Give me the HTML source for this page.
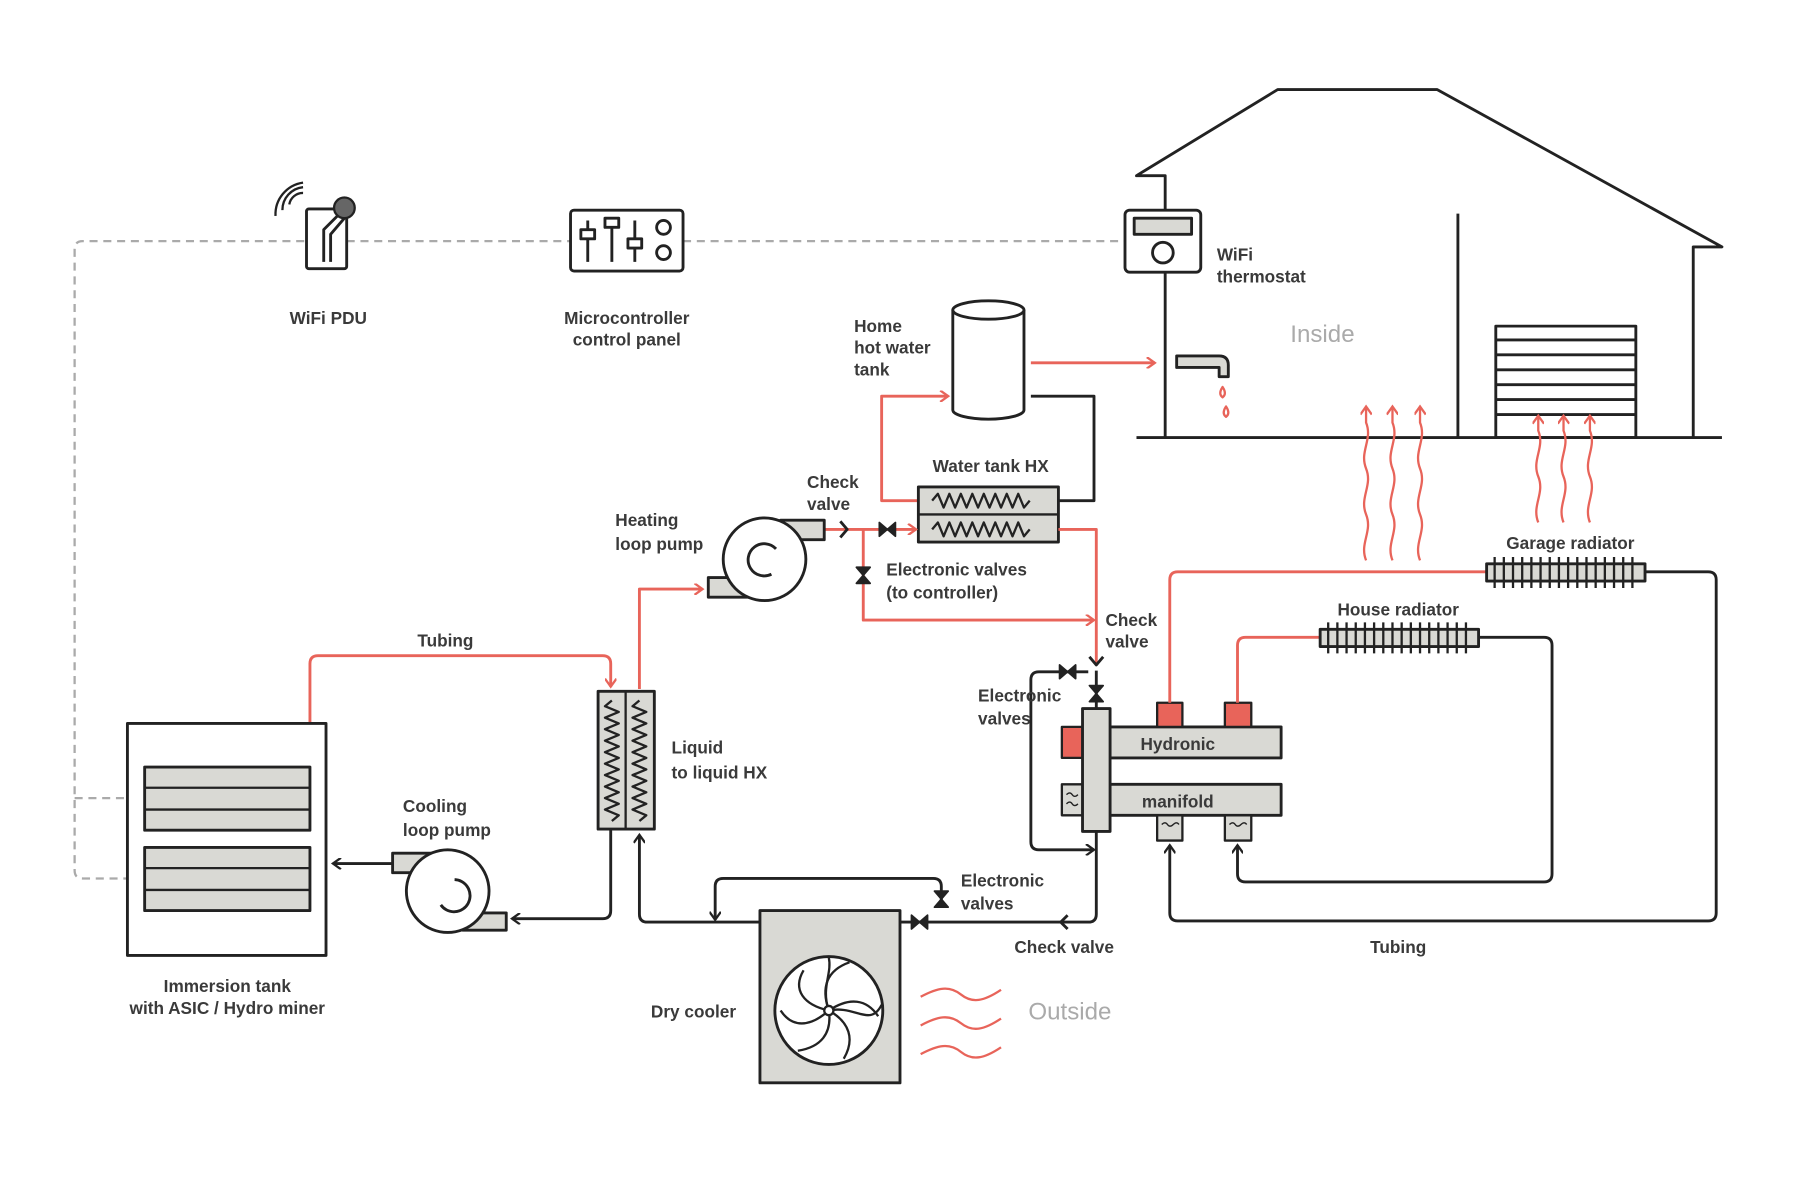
<!DOCTYPE html>
<html><head><meta charset="utf-8"><style>
html,body{margin:0;padding:0;background:#fff;}
svg{display:block}
text{font-family:"Liberation Sans",sans-serif;font-size:15px;font-weight:bold;fill:#3a3a3a;}
</style></head><body>
<svg width="1800" height="1200" viewBox="0 0 1568 1045" preserveAspectRatio="none" xmlns="http://www.w3.org/2000/svg">
<defs>
<marker id="ab" markerWidth="10" markerHeight="10" refX="8" refY="5" orient="auto" markerUnits="userSpaceOnUse"><path d="M1,0 L8,5 L1,10" fill="none" stroke="#222" stroke-width="2"/></marker>
<marker id="ar" markerWidth="10" markerHeight="10" refX="8" refY="5" orient="auto" markerUnits="userSpaceOnUse"><path d="M1,0 L8,5 L1,10" fill="none" stroke="#e8645a" stroke-width="2"/></marker>
</defs>
<g fill="none" stroke-linejoin="round">
<g stroke="#aaa" stroke-width="2" stroke-dasharray="7,5">
<path d="M265,210 H72 Q65,210 65,217 V758 Q65,765 72,765 H110"/>
<path d="M65,695 H110"/>
<path d="M302,210 H497"/><path d="M595,210 H980"/>
</g>
<g stroke="#222" stroke-width="2.5">
<path d="M1015,183 V153 H990 L1113,78 H1252 L1500,215 H1475 V381"/>
<path d="M1015,237 V381"/>
<path d="M990,381 H1500"/>
<path d="M1270,186 V381"/>
<rect x="1303" y="284" width="122" height="97"/>
<path d="M1303,296 H1425 M1303,309 H1425 M1303,322 H1425 M1303,335 H1425 M1303,348 H1425 M1303,361 H1425"/>
</g>
<g stroke="#222" stroke-width="2.5">
<rect x="267" y="182" width="35" height="52" rx="2"/>
<path d="M282,228 V200 L298,184"/>
<path d="M288,228 V204 L300,190"/>
</g>
<path d="M252,178 a12,12 0 0 1 12,-10 M246,183 a20,20 0 0 1 18,-20 M240,188 a28,28 0 0 1 24,-29" stroke="#222" stroke-width="2"/>
<circle cx="300" cy="181" r="9" fill="#666" stroke="#222" stroke-width="2"/>
<g stroke="#222" stroke-width="2.5">
<rect x="497" y="183" width="98" height="53" rx="3"/>
<path d="M512,192 V228 M533,192 V228 M553,192 V228"/>
<rect x="506" y="200" width="12" height="8" fill="#fff"/>
<rect x="527" y="190" width="12" height="8" fill="#fff"/>
<rect x="547" y="208" width="12" height="8" fill="#fff"/>
<circle cx="578" cy="198" r="6"/><circle cx="578" cy="220" r="6"/>
</g>
<g stroke="#222" stroke-width="2.5">
<rect x="980" y="183" width="66" height="54" rx="4"/>
<rect x="988" y="190" width="50" height="14" fill="#d9d9d4"/>
<circle cx="1013" cy="220" r="9"/>
</g>
<path d="M1025,310 H1062 Q1070,310 1070,318 V328 H1062 V320 H1025 Z" fill="#d9d9d4" stroke="#222" stroke-width="2.5"/>
<path d="M1065,337 q-4,6 0,9 q4,-3 0,-9 Z M1068,354 q-4,6 0,9 q4,-3 0,-9 Z" stroke="#e8645a" stroke-width="2"/>
<path d="M830,270 V357 A31,8 0 0 0 892,357 V270" fill="#fff" stroke="#222" stroke-width="2.5"/>
<ellipse cx="861" cy="270" rx="31" ry="8" fill="#fff" stroke="#222" stroke-width="2.5"/>
<path d="M898,316 H1006" stroke="#e8645a" stroke-width="2.5" marker-end="url(#ar)"/>
<path d="M800,436 H768 V345 H826" stroke="#e8645a" stroke-width="2.5" marker-end="url(#ar)"/>
<path d="M898,345 H953 V436 H922" stroke="#222" stroke-width="2.5"/>
<rect x="800" y="424" width="122" height="48" fill="#d9d9d4" stroke="#222" stroke-width="2.5"/>
<path d="M800,448 H922" stroke="#222" stroke-width="2"/>
<path d="M812,436 l5,-6 l5,12 l5,-12 l5,12 l5,-12 l5,12 l5,-12 l5,12 l5,-12 l5,12 l5,-12 l5,12 l5,-12 l5,12 l5,-12 l5,12 l5,-6" stroke="#222" stroke-width="2"/>
<path d="M812,461 l5,-6 l5,12 l5,-12 l5,12 l5,-12 l5,12 l5,-12 l5,12 l5,-12 l5,12 l5,-12 l5,12 l5,-12 l5,12 l5,-12 l5,12 l5,-6" stroke="#222" stroke-width="2"/>
<path d="M718,461 H798" stroke="#e8645a" stroke-width="2.5" marker-end="url(#ar)"/>
<path d="M732,454 l6,7 l-6,7" stroke="#222" stroke-width="2.5"/>
<path d="M766,455 v12 l14,-12 v12 z" fill="#222" stroke="#222" stroke-width="1.5"/>
<path d="M922,461 H955 V578" stroke="#e8645a" stroke-width="2.5"/>
<path d="M752,461 V540 H953" stroke="#e8645a" stroke-width="2.5" marker-end="url(#ar)"/>
<path d="M746,494 h12 l-12,14 h12 z" fill="#222" stroke="#222" stroke-width="1.5"/>
<path d="M949,572 l6,7 l6,-7" stroke="#222" stroke-width="2.5"/>
<rect x="680" y="453" width="38" height="17" fill="#d9d9d4" stroke="#222" stroke-width="2.5"/>
<rect x="617" y="503" width="38" height="17" fill="#d9d9d4" stroke="#222" stroke-width="2.5"/>
<circle cx="666" cy="487" r="36" fill="#fff" stroke="#222" stroke-width="2.5"/>
<path d="M676,478 A14,14 0 1 0 672,500" stroke="#222" stroke-width="2.5"/>
<path d="M557,600 V513 H612" stroke="#e8645a" stroke-width="2.5" marker-end="url(#ar)"/>
<path d="M270,630 V578 Q270,571 277,571 H525 Q532,571 532,578 V598" stroke="#e8645a" stroke-width="2.5" marker-end="url(#ar)"/>
<rect x="521" y="602" width="49" height="120" fill="#d9d9d4" stroke="#222" stroke-width="2.5"/>
<path d="M545,602 V722" stroke="#222" stroke-width="2"/>
<path d="M533,610 l-6,5 l12,5 l-12,5 l12,5 l-12,5 l12,5 l-12,5 l12,5 l-12,5 l12,5 l-12,5 l12,5 l-12,5 l12,5 l-12,5 l12,5 l-12,5 l12,5 l-12,5 l12,5 l-6,5" stroke="#222" stroke-width="2"/>
<path d="M557,610 l-6,5 l12,5 l-12,5 l12,5 l-12,5 l12,5 l-12,5 l12,5 l-12,5 l12,5 l-12,5 l12,5 l-12,5 l12,5 l-12,5 l12,5 l-12,5 l12,5 l-12,5 l12,5 l-6,5" stroke="#222" stroke-width="2"/>
<rect x="111" y="630" width="173" height="202" fill="#fff" stroke="#222" stroke-width="2.5"/>
<g fill="#d9d9d4" stroke="#222" stroke-width="2.5">
<rect x="126" y="668" width="144" height="55"/><rect x="126" y="738" width="144" height="55"/>
</g>
<path d="M126,686 H270 M126,705 H270 M126,756 H270 M126,775 H270" stroke="#222" stroke-width="2"/>
<path d="M342,752 H290" stroke="#222" stroke-width="2.5" marker-end="url(#ab)"/>
<path d="M532,722 V793 Q532,800 525,800 H446" stroke="#222" stroke-width="2.5" marker-end="url(#ab)"/>
<rect x="342" y="743" width="38" height="17" fill="#d9d9d4" stroke="#222" stroke-width="2.5"/>
<rect x="403" y="795" width="38" height="15" fill="#d9d9d4" stroke="#222" stroke-width="2.5"/>
<circle cx="390" cy="776" r="36" fill="#fff" stroke="#222" stroke-width="2.5"/>
<path d="M396,766 A14,14 0 1 1 384,788" stroke="#222" stroke-width="2.5"/>
<path d="M662,803 H564 Q557,803 557,796 V727" stroke="#222" stroke-width="2.5" marker-end="url(#ab)"/>
<path d="M820,790 V772 Q820,765 813,765 H630 Q623,765 623,772 V801" stroke="#222" stroke-width="2.5" marker-end="url(#ab)"/>
<path d="M814,776 h12 l-12,14 h12 z" fill="#222" stroke="#222" stroke-width="1.5"/>
<path d="M784,803 H948 Q955,803 955,796 V724" stroke="#222" stroke-width="2.5"/>
<path d="M794,797 v12 l14,-12 v12 z" fill="#222" stroke="#222" stroke-width="1.5"/>
<path d="M930,797 l-6,6 l6,6" stroke="#222" stroke-width="2.5"/>
<rect x="662" y="793" width="122" height="150" fill="#d9d9d4" stroke="#222" stroke-width="2.5"/>
<circle cx="722" cy="880" r="47" fill="#fff" stroke="#222" stroke-width="2.5"/>
<g stroke="#222" stroke-width="2">
<path d="M722,880 C715,860 720,845 740,838"/><path d="M722,880 C740,868 755,870 765,885"/>
<path d="M722,880 C740,890 745,905 735,922"/><path d="M722,880 C725,900 715,912 695,915"/>
<path d="M722,880 C705,895 690,895 680,880"/><path d="M722,880 C700,875 690,862 700,845"/>
<path d="M722,880 C715,860 725,848 722,834"/><path d="M722,880 C745,875 758,895 768,875"/>
</g>
<circle cx="722" cy="880" r="4" fill="#fff" stroke="#222" stroke-width="2"/>
<path d="M802,868 c15,-8 25,-10 35,-2 c10,8 20,6 35,-4 M802,893 c15,-8 25,-10 35,-2 c10,8 20,6 35,-4 M802,918 c15,-8 25,-10 35,-2 c10,8 20,6 35,-4" stroke="#e8645a" stroke-width="2"/>
<path d="M955,584 V617" stroke="#222" stroke-width="2.5"/>
<path d="M949,597 h12 l-12,14 h12 z" fill="#222" stroke="#222" stroke-width="1.5"/>
<path d="M948,585 H905 Q898,585 898,592 V733 Q898,740 905,740 H953" stroke="#222" stroke-width="2.5" marker-end="url(#ab)"/>
<path d="M923,579 v12 l14,-12 v12 z" fill="#222" stroke="#222" stroke-width="1.5"/>
<rect x="967" y="633" width="149" height="27" fill="#d9d9d4" stroke="#222" stroke-width="2.5"/>
<rect x="967" y="683" width="149" height="27" fill="#d9d9d4" stroke="#222" stroke-width="2.5"/>
<rect x="925" y="633" width="18" height="27" fill="#e8645a" stroke="#222" stroke-width="2"/>
<rect x="1008" y="612" width="22" height="21" fill="#e8645a" stroke="#222" stroke-width="2"/>
<rect x="1067" y="612" width="23" height="21" fill="#e8645a" stroke="#222" stroke-width="2"/>
<rect x="925" y="683" width="18" height="27" fill="#d9d9d4" stroke="#222" stroke-width="2"/>
<rect x="1008" y="710" width="22" height="22" fill="#d9d9d4" stroke="#222" stroke-width="2"/>
<rect x="1067" y="710" width="23" height="22" fill="#d9d9d4" stroke="#222" stroke-width="2"/>
<path d="M929,692 q3,-3 5,0 t5,0 M929,700 q3,-3 5,0 t5,0 M1012,718 q3,-3 5,0 t5,0 t5,0 M1071,718 q3,-3 5,0 t5,0 t5,0" stroke="#222" stroke-width="1.2"/>
<rect x="943" y="617" width="24" height="107" fill="#d9d9d4" stroke="#222" stroke-width="2.5"/>
<path d="M1019,612 V505 Q1019,498 1026,498 H1295" stroke="#e8645a" stroke-width="2.5"/>
<path d="M1078,612 V562 Q1078,555 1085,555 H1150" stroke="#e8645a" stroke-width="2.5"/>
<path d="M1433,498 H1488 Q1495,498 1495,505 V795 Q1495,802 1488,802 H1026 Q1019,802 1019,795 V736" stroke="#222" stroke-width="2.5" marker-end="url(#ab)"/>
<path d="M1288,555 H1345 Q1352,555 1352,562 V761 Q1352,768 1345,768 H1085 Q1078,768 1078,761 V736" stroke="#222" stroke-width="2.5" marker-end="url(#ab)"/>
<rect x="1295" y="491" width="138" height="15" fill="#d9d9d4" stroke="#222" stroke-width="2.5"/>
<path d="M1302,485 v27 M1310,485 v27 M1318,485 v27 M1326,485 v27 M1334,485 v27 M1342,485 v27 M1350,485 v27 M1358,485 v27 M1366,485 v27 M1374,485 v27 M1382,485 v27 M1390,485 v27 M1398,485 v27 M1406,485 v27 M1414,485 v27 M1422,485 v27" stroke="#222" stroke-width="2"/>
<rect x="1150" y="548" width="138" height="15" fill="#d9d9d4" stroke="#222" stroke-width="2.5"/>
<path d="M1157,542 v27 M1165,542 v27 M1173,542 v27 M1181,542 v27 M1189,542 v27 M1197,542 v27 M1205,542 v27 M1213,542 v27 M1221,542 v27 M1229,542 v27 M1237,542 v27 M1245,542 v27 M1253,542 v27 M1261,542 v27 M1269,542 v27 M1277,542 v27" stroke="#222" stroke-width="2"/>
<g stroke="#e8645a" stroke-width="2">
<path d="M1190,488 c-6,-15 6,-25 0,-40 c-6,-15 6,-25 0,-40 c-6,-15 6,-25 0,-40 V354" marker-end="url(#ar)"/>
<path d="M1213,488 c-6,-15 6,-25 0,-40 c-6,-15 6,-25 0,-40 c-6,-15 6,-25 0,-40 V354" marker-end="url(#ar)"/>
<path d="M1237,488 c-6,-15 6,-25 0,-40 c-6,-15 6,-25 0,-40 c-6,-15 6,-25 0,-40 V354" marker-end="url(#ar)"/>
<path d="M1340,455 c-6,-15 6,-25 0,-40 c-6,-15 6,-25 0,-40 V362" marker-end="url(#ar)"/>
<path d="M1362,455 c-6,-15 6,-25 0,-40 c-6,-15 6,-25 0,-40 V362" marker-end="url(#ar)"/>
<path d="M1385,455 c-6,-15 6,-25 0,-40 c-6,-15 6,-25 0,-40 V362" marker-end="url(#ar)"/>
</g>
</g>
<text x="286" y="282" text-anchor="middle">WiFi PDU</text>
<text x="546" y="282" text-anchor="middle">Microcontroller</text>
<text x="546" y="301" text-anchor="middle">control panel</text>
<text x="1060" y="227">WiFi</text>
<text x="1060" y="246">thermostat</text>
<text x="1152" y="298" text-anchor="middle" style="font-size:21px;fill:#aaa;font-weight:normal">Inside</text>
<text x="744" y="289">Home</text><text x="744" y="308">hot water</text><text x="744" y="327">tank</text>
<text x="863" y="411" text-anchor="middle">Water tank HX</text>
<text x="703" y="425">Check</text><text x="703" y="444">valve</text>
<text x="536" y="458">Heating</text><text x="536" y="479">loop pump</text>
<text x="772" y="501">Electronic valves</text><text x="772" y="521">(to controller)</text>
<text x="963" y="545">Check</text><text x="963" y="564">valve</text>
<text x="852" y="611">Electronic</text><text x="852" y="631">valves</text>
<text x="1026" y="653" text-anchor="middle">Hydronic</text>
<text x="1026" y="703" text-anchor="middle">manifold</text>
<text x="1368" y="478" text-anchor="middle">Garage radiator</text>
<text x="1218" y="536" text-anchor="middle">House radiator</text>
<text x="388" y="563" text-anchor="middle">Tubing</text>
<text x="585" y="656">Liquid</text><text x="585" y="678">to liquid HX</text>
<text x="351" y="707">Cooling</text><text x="351" y="728">loop pump</text>
<text x="837" y="772">Electronic</text><text x="837" y="792">valves</text>
<text x="927" y="830" text-anchor="middle">Check valve</text>
<text x="1218" y="830" text-anchor="middle">Tubing</text>
<text x="198" y="864" text-anchor="middle">Immersion tank</text>
<text x="198" y="883" text-anchor="middle">with ASIC / Hydro miner</text>
<text x="567" y="886">Dry cooler</text>
<text x="932" y="888" text-anchor="middle" style="font-size:21px;fill:#aaa;font-weight:normal">Outside</text>
</svg>
</body></html>
